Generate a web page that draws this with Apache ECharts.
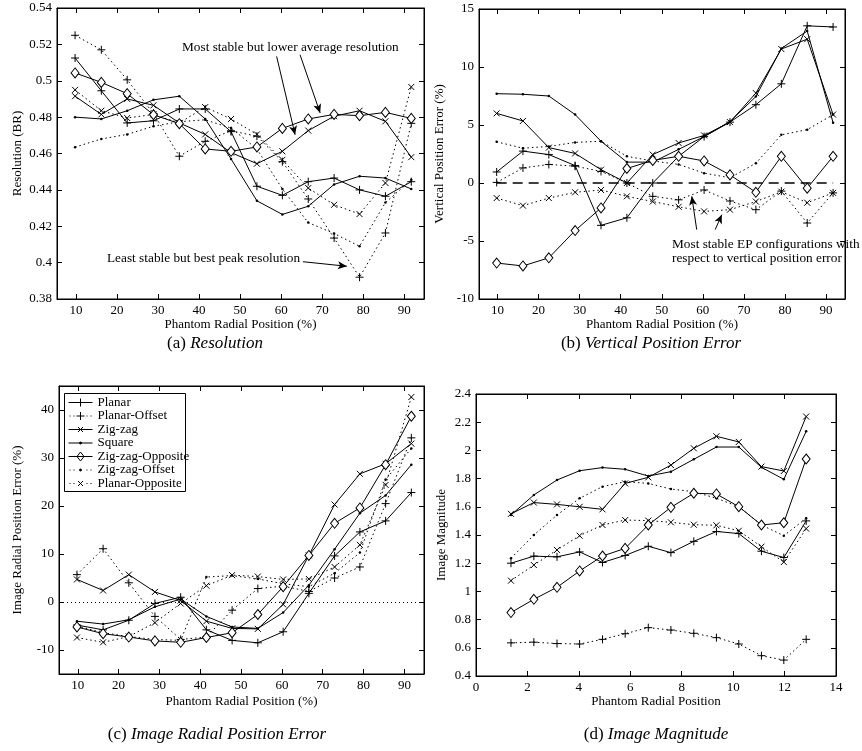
<!DOCTYPE html>
<html>
<head>
<meta charset="utf-8">
<script src="https://cdn.jsdelivr.net/npm/echarts@6/dist/echarts.min.js"></script>
<style>
  html, body { margin: 0; padding: 0; background: #fff; }
  #chart { width: 862px; height: 751px; }
</style>
</head>
<body>
<div id="chart"></div>
<script>
// x positions: phantom radial position in % (panels a-c) and in cm (panel d)
const xPct = [9.8, 16.2, 22.5, 28.9, 35.2, 41.5, 47.8, 54.1, 60.3, 66.6, 72.9, 79.1, 85.4, 91.7]
const xMag = [1.36, 2.25, 3.15, 4.03, 4.92, 5.8, 6.7, 7.58, 8.47, 9.35, 10.22, 11.1, 11.97, 12.84]

const names = ['Planar', 'Planar-Offset', 'Zig-zag', 'Square', 'Zig-zag-Opposite', 'Zig-zag-Offset', 'Planar-Opposite']

// (a) Resolution (BR)
const resPlanar = [0.5125, 0.4945, 0.4768, 0.478, 0.4845, 0.4845, 0.472, 0.442, 0.437, 0.4445, 0.4465, 0.440, 0.4365, 0.4445]
const resPlanarOffset = [0.525, 0.517, 0.5005, 0.482, 0.4585, 0.4667, 0.4725, 0.4695, 0.4555, 0.435, 0.4135, 0.392, 0.4163, 0.4766]
const resZigzag = [0.4915, 0.4815, 0.490, 0.4865, 0.4768, 0.4705, 0.4605, 0.4544, 0.4612, 0.4726, 0.4805, 0.4835, 0.4777, 0.458]
const resSquare = [0.480, 0.479, 0.4835, 0.4895, 0.4915, 0.479, 0.457, 0.434, 0.4265, 0.431, 0.443, 0.4475, 0.4465, 0.4405]
const resZigzagOpp = [0.5043, 0.4991, 0.4929, 0.4813, 0.4764, 0.4625, 0.4612, 0.4636, 0.4738, 0.479, 0.4815, 0.4808, 0.4826, 0.4793]
const resZigzagOffset = [0.4635, 0.468, 0.4705, 0.475, 0.4775, 0.4785, 0.474, 0.4625, 0.4405, 0.422, 0.416, 0.409, 0.433, 0.4455]
const resPlanarOpp = [0.495, 0.4835, 0.4795, 0.4815, 0.4768, 0.4855, 0.479, 0.4705, 0.4565, 0.441, 0.4318, 0.4267, 0.4438, 0.4966]

// (b) Vertical position error (%)
const vpePlanar = [0.95, 2.75, 2.45, 1.5, -3.65, -3.0, 0.0, 2.3, 4.0, 5.25, 6.75, 8.55, 13.55, 13.45]
const vpePlanarOffset = [0.05, 1.3, 1.6, 1.45, 1.0, 0.0, -1.15, -1.45, -0.6, -1.55, -2.3, -0.7, -3.45, -0.85]
const vpeZigzag = [6.0, 5.35, 3.05, 2.55, 1.15, 0.0, 2.45, 3.45, 4.1, 5.25, 7.75, 11.55, 12.4, 5.9]
const vpeSquare = [7.7, 7.65, 7.5, 5.9, 3.6, 1.8, 1.8, 2.9, 4.0, 5.3, 7.45, 11.6, 13.1, 5.2]
const vpeZigzagOpp = [-6.9, -7.15, -6.45, -4.1, -2.15, 1.25, 1.95, 2.3, 1.9, 0.7, -0.8, 2.3, -0.45, 2.3]
const vpeZigzagOffset = [3.55, 3.0, 3.15, 3.5, 3.6, 2.3, 1.9, 1.6, 0.85, 0.45, 1.7, 4.15, 4.6, 5.9]
const vpePlanarOpp = [-1.3, -1.95, -1.3, -0.8, -0.6, -1.15, -1.6, -2.05, -2.45, -2.3, -1.6, -0.75, -1.7, -0.85]

// (c) Image radial position error (%)
const irpPlanar = [-4.8, -5.8, -3.8, -0.3, 1.0, -5.8, -8.0, -8.5, -6.2, 1.8, 9.6, 14.6, 16.9, 22.8]
const irpPlanarOffset = [5.7, 11.1, 4.0, -3.0, -7.8, -7.3, -1.7, 2.8, 3.3, 2.2, 5.0, 7.3, 20.5, 34.2]
const irpZigzag = [4.7, 2.4, 5.7, 2.1, 0.3, -4.0, -5.5, -5.6, -0.5, 9.7, 20.3, 26.7, 28.8, 33.0]
const irpSquare = [-4.0, -4.6, -3.7, -1.0, 0.6, -3.0, -5.2, -5.5, -2.2, 3.5, 11.0, 18.5, 22.2, 28.6]
const irpZigzagOpp = [-5.2, -6.6, -7.3, -8.1, -8.4, -7.4, -6.4, -2.6, 3.2, 9.7, 16.4, 19.6, 28.6, 38.7]
const irpZigzagOffset = [-5.0, -6.4, -7.2, -7.8, -8.0, 5.2, 5.5, 4.8, 3.8, 3.2, 6.0, 10.3, 25.5, 32.0]
const irpPlanarOpp = [-7.4, -8.4, -7.2, -4.3, -0.3, 3.4, 5.6, 5.3, 4.7, 4.8, 7.3, 11.9, 24.4, 42.7]

// (d) Image magnitude
const magPlanar = [1.20, 1.25, 1.245, 1.28, 1.205, 1.255, 1.32, 1.275, 1.355, 1.425, 1.41, 1.285, 1.24, 1.50]
const magPlanarOffset = [0.635, 0.64, 0.63, 0.627, 0.66, 0.70, 0.743, 0.726, 0.703, 0.672, 0.627, 0.544, 0.513, 0.66]
const magZigzag = [1.55, 1.63, 1.617, 1.60, 1.582, 1.766, 1.809, 1.896, 2.015, 2.10, 2.06, 1.885, 1.854, 2.24]
const magSquare = [1.542, 1.684, 1.79, 1.856, 1.878, 1.866, 1.818, 1.849, 1.937, 2.024, 2.024, 1.88, 1.795, 2.135]
const magZigzagOpp = [0.85, 0.944, 1.029, 1.145, 1.251, 1.305, 1.471, 1.596, 1.696, 1.691, 1.601, 1.471, 1.487, 1.939]
const magZigzagOffset = [1.235, 1.40, 1.542, 1.66, 1.743, 1.778, 1.766, 1.726, 1.707, 1.66, 1.601, 1.471, 1.395, 1.518]
const magPlanarOpp = [1.076, 1.187, 1.294, 1.395, 1.471, 1.506, 1.502, 1.49, 1.473, 1.469, 1.43, 1.317, 1.208, 1.445]

const pctTicks = [10, 20, 30, 40, 50, 60, 70, 80, 90]
const irpTicks = [-10, 0, 10, 20, 30, 40]

const FONT = 'Liberation Serif'
const PLUS = 'path://M5,0L5,10M0,5L10,5'
const CROSS = 'path://M0,0L10,10M10,0L0,10'
const DOT = [1.5, 3]

const look = {
    'Planar': { dash: 'solid', symbol: PLUS, size: 8 },
    'Planar-Offset': { dash: DOT, symbol: PLUS, size: 8 },
    'Zig-zag': { dash: 'solid', symbol: CROSS, size: 6 },
    'Square': { dash: 'solid', symbol: 'circle', size: 2.5 },
    'Zig-zag-Opposite': { dash: 'solid', symbol: 'diamond', size: [8, 10] },
    'Zig-zag-Offset': { dash: DOT, symbol: 'circle', size: 2.5 },
    'Planar-Opposite': { dash: DOT, symbol: CROSS, size: 6 }
}

// legend icons (24 x 10 box): line sample with the marker in the middle
const ICON_BOX = 'M0,0M24,10'
const ICON_SOLID = 'M0,5L24,5'
const ICON_DOTTED = 'M1,5L2,5M5,5L6,5M18,5L19,5M22,5L23,5'
const ICON_MARK = {
    plus: 'M12,1L12,9M8,5L16,5',
    cross: 'M9.5,2.5L14.5,7.5M14.5,2.5L9.5,7.5',
    dot: 'M13,5A1,1 0 1 1 11,5A1,1 0 1 1 13,5Z',
    diamond: 'M12,0.5L15.5,5L12,9.5L8.5,5Z'
}
const legendIcons = {
    'Planar': ICON_SOLID + ICON_MARK.plus,
    'Planar-Offset': ICON_DOTTED + ICON_MARK.plus,
    'Zig-zag': ICON_SOLID + ICON_MARK.cross,
    'Square': ICON_SOLID + ICON_MARK.dot,
    'Zig-zag-Opposite': ICON_SOLID + ICON_MARK.diamond,
    'Zig-zag-Offset': ICON_DOTTED + ICON_MARK.dot,
    'Planar-Opposite': ICON_DOTTED + ICON_MARK.cross
}

const panels = [
    { xs: xPct, data: [resPlanar, resPlanarOffset, resZigzag, resSquare, resZigzagOpp, resZigzagOffset, resPlanarOpp] },
    { xs: xPct, data: [vpePlanar, vpePlanarOffset, vpeZigzag, vpeSquare, vpeZigzagOpp, vpeZigzagOffset, vpePlanarOpp] },
    { xs: xPct, data: [irpPlanar, irpPlanarOffset, irpZigzag, irpSquare, irpZigzagOpp, irpZigzagOffset, irpPlanarOpp] },
    { xs: xMag, data: [magPlanar, magPlanarOffset, magZigzag, magSquare, magZigzagOpp, magZigzagOffset, magPlanarOpp] }
]

function itemStyleFor(symbol) {
    if (symbol === 'diamond') return { color: '#fff', borderColor: '#000', borderWidth: 1 }
    if (symbol === 'circle') return { color: '#000', borderColor: '#000', borderWidth: 0 }
    return { color: '#000', borderColor: '#000', borderWidth: 1 }
}

const labelStyle = { fontFamily: FONT, fontSize: 13, color: '#000' }
const nameStyle = { fontFamily: FONT, fontSize: 13, color: '#000' }

function makeAxes(g, min, max, opts, sides) {
    const tick = { show: true, inside: true, length: 5, lineStyle: { color: '#000' } }
    const main = {
        type: 'value', gridIndex: g, min: min, max: max, position: sides[0],
        name: opts.name, nameLocation: 'middle', nameGap: opts.nameGap, nameTextStyle: nameStyle,
        axisLine: { show: true, onZero: false, lineStyle: { color: '#000' } },
        axisTick: Object.assign({}, tick),
        axisLabel: Object.assign({ margin: 5 }, labelStyle),
        splitLine: { show: false }
    }
    const mirror = {
        type: 'value', gridIndex: g, min: min, max: max, position: sides[1],
        axisLine: { show: true, onZero: false, lineStyle: { color: '#000' } },
        axisTick: Object.assign({}, tick),
        axisLabel: { show: false },
        splitLine: { show: false }
    }
    if (opts.ticks) {
        main.axisTick.customValues = opts.ticks
        main.axisLabel.customValues = opts.ticks
        mirror.axisTick.customValues = opts.ticks
    } else {
        main.interval = opts.interval
        mirror.interval = opts.interval
    }
    return [main, mirror]
}

const xAxis = [].concat(
    makeAxes(0, 5.4, 94.8, { ticks: pctTicks, name: 'Phantom Radial Position (%)', nameGap: 19 }, ['bottom', 'top']),
    makeAxes(1, 5.5, 94.6, { ticks: pctTicks, name: 'Phantom Radial Position (%)', nameGap: 19 }, ['bottom', 'top']),
    makeAxes(2, 5.4, 94.8, { ticks: pctTicks, name: 'Phantom Radial Position (%)', nameGap: 21 }, ['bottom', 'top']),
    makeAxes(3, 0, 14, { interval: 2, name: 'Phantom Radial Position', nameGap: 19 }, ['bottom', 'top'])
)
const yAxis = [].concat(
    makeAxes(0, 0.38, 0.54, { interval: 0.02, name: 'Resolution (BR)', nameGap: 33 }, ['left', 'right']),
    makeAxes(1, -10, 15, { interval: 5, name: 'Vertical Position Error (%)', nameGap: 33 }, ['left', 'right']),
    makeAxes(2, -15, 45, { ticks: irpTicks, name: 'Image Radial Position Error (%)', nameGap: 35 }, ['left', 'right']),
    makeAxes(3, 0.4, 2.4, { interval: 0.2, name: 'Image Magnitude', nameGap: 28 }, ['left', 'right'])
)

const series = []
panels.forEach(function (p, g) {
    names.forEach(function (name, k) {
        const lk = look[name]
        series.push({
            name: name,
            type: 'line',
            xAxisIndex: g * 2,
            yAxisIndex: g * 2,
            data: p.xs.map(function (x, i) { return [x, p.data[k][i]] }),
            symbol: lk.symbol,
            symbolSize: lk.size,
            showAllSymbol: true,
            silent: true,
            lineStyle: { color: '#000', width: 1, type: lk.dash },
            itemStyle: itemStyleFor(lk.symbol),
            z: name === 'Zig-zag-Opposite' ? 3 : 2
        })
    })
})

const arrowLine = { color: '#000', width: 1, type: 'solid' }
function arrow(a, b) {
    return [{ coord: a, symbol: 'none' }, { coord: b, symbol: 'arrow', symbolSize: [6, 9] }]
}

// annotation arrows on panel (a)
series.push({
    name: 'annotA', type: 'line', xAxisIndex: 0, yAxisIndex: 0, data: [], silent: true,
    markLine: {
        silent: true, animation: false, label: { show: false }, lineStyle: arrowLine,
        data: [
            arrow([58.9, 0.5134], [63.4, 0.4703]),
            arrow([64.6, 0.5143], [69.5, 0.4823]),
            arrow([65.3, 0.4005], [76.0, 0.398])
        ]
    }
})
// zero line and arrows on panel (b)
series.push({
    name: 'annotB', type: 'line', xAxisIndex: 2, yAxisIndex: 2, data: [], silent: true,
    markLine: {
        silent: true, animation: false, label: { show: false }, lineStyle: arrowLine,
        data: [
            [{ coord: [xPct[0], 0], symbol: 'none', lineStyle: { type: [10, 6], width: 1.6 } },
             { coord: [xPct[xPct.length - 1], 0], symbol: 'none' }],
            arrow([58.5, -4.02], [57.3, -1.15]),
            arrow([63.0, -4.02], [64.6, -2.73])
        ]
    }
})
// dotted zero line on panel (c)
series.push({
    name: 'annotC', type: 'line', xAxisIndex: 4, yAxisIndex: 4, data: [], silent: true,
    markLine: {
        silent: true, animation: false, label: { show: false }, symbol: 'none',
        lineStyle: { color: '#000', width: 1, type: [1, 3] },
        data: [{ yAxis: 0 }]
    }
})

const annotFont = { fontFamily: FONT, fontSize: 13.3, fill: '#000' }
function captionText(x, y, label, title) {
    return {
        type: 'text', x: x, y: y, silent: true,
        style: {
            text: '{n|' + label + '} {i|' + title + '}',
            align: 'center', verticalAlign: 'middle',
            fontFamily: FONT, fontSize: 17, fill: '#000',
            rich: {
                n: { fontFamily: FONT, fontSize: 17, fill: '#000' },
                i: { fontFamily: FONT, fontSize: 17, fontStyle: 'italic', fill: '#000' }
            }
        }
    }
}

const option = {
    animation: false,
    backgroundColor: '#fff',
    grid: [
        { left: 57, top: 8, width: 367, height: 291, show: true, borderColor: '#000', borderWidth: 1 },
        { left: 479, top: 9, width: 366, height: 290, show: true, borderColor: '#000', borderWidth: 1 },
        { left: 59, top: 386, width: 365, height: 288, show: true, borderColor: '#000', borderWidth: 1 },
        { left: 476, top: 394, width: 360, height: 282, show: true, borderColor: '#000', borderWidth: 1 }
    ],
    legend: {
        data: names.map(function (n) { return { name: n, icon: 'path://' + ICON_BOX + legendIcons[n] } }),
        orient: 'vertical',
        left: 64,
        top: 394,
        itemWidth: 24,
        itemHeight: 10,
        itemGap: 0.5,
        padding: [2, 0, 0, 4],
        selectedMode: false,
        z: 10,
        itemStyle: { borderColor: '#000', borderWidth: 1 },
        textStyle: { fontFamily: FONT, fontSize: 13, color: '#000' }
    },
    xAxis: xAxis,
    yAxis: yAxis,
    series: series,
    graphic: [
        // legend frame
        { type: 'rect', z: 9, silent: true,
          shape: { x: 64.5, y: 393.5, width: 121, height: 98 },
          style: { fill: '#fff', stroke: '#000', lineWidth: 1 } },
        { type: 'text', x: 182, y: 48, silent: true,
          style: Object.assign({ text: 'Most stable but lower average resolution', verticalAlign: 'middle' }, annotFont) },
        { type: 'text', x: 107, y: 259, silent: true,
          style: Object.assign({ text: 'Least stable but best peak resolution', verticalAlign: 'middle' }, annotFont) },
        { type: 'text', x: 672, y: 245, silent: true,
          style: Object.assign({ text: 'Most stable EP configurations with', verticalAlign: 'middle' }, annotFont) },
        { type: 'text', x: 672, y: 259, silent: true,
          style: Object.assign({ text: 'respect to vertical position error', verticalAlign: 'middle' }, annotFont) },
        captionText(215, 344, '(a)', 'Resolution'),
        captionText(651, 344, '(b)', 'Vertical Position Error'),
        captionText(217, 735, '(c)', 'Image Radial Position Error'),
        captionText(656, 735, '(d)', 'Image Magnitude')
    ]
}

const chart = echarts.init(document.getElementById('chart'))
chart.setOption(option)
</script>
</body>
</html>
